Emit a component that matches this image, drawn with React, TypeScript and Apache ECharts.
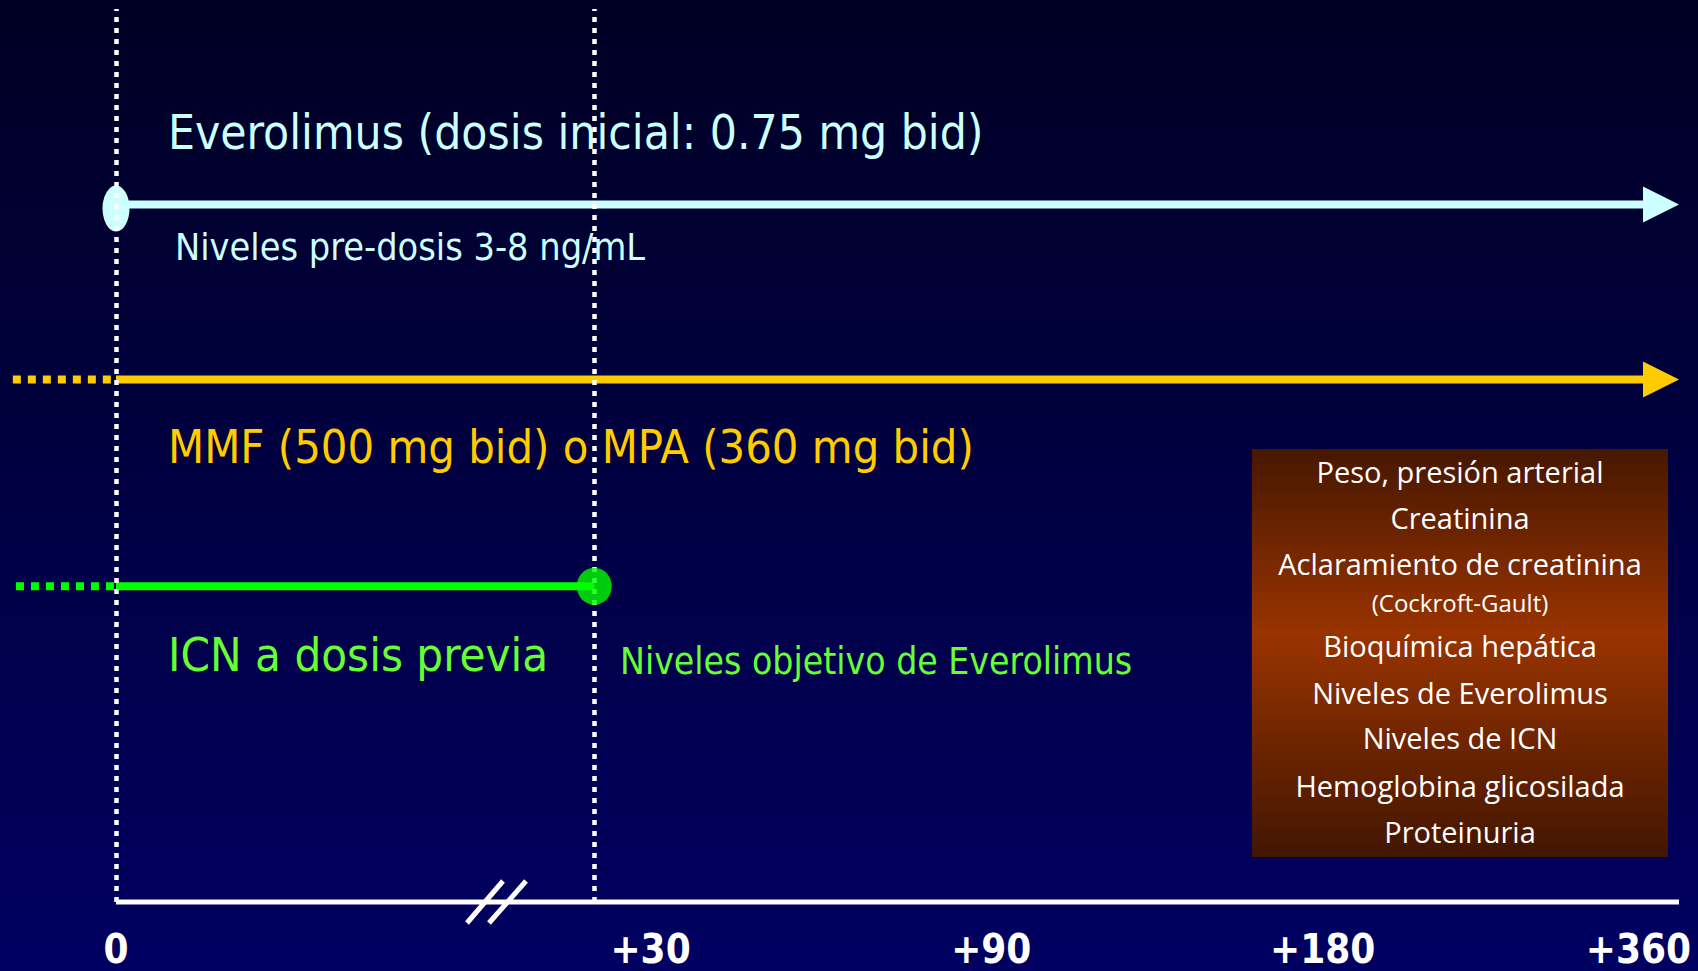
import React, { useEffect, useRef } from "react";
import * as echarts from "echarts";

// Timeline milestones (days after conversion) and where they sit on the track (0–100)
const milestoneLabels = ["0", "+30", "+90", "+180", "+360"];
const milestoneTrack = [0, 34.2, 56.0, 77.2, 97.4];

// Vertical guides: conversion day and the point where target everolimus levels are reached
const guideTrack = [0, 30.6];

// Treatment lanes
const laneNames = ["Everolimus", "MMF / MPA", "ICN"];
const laneLevel = [78.1, 58.5, 35.35];
const laneStart = [0, 0, 0];
const laneEnd = [100, 100, 30.6];
const laneLeadIn = [null, -6.6, -6.4];
const laneColor = ["#ccffff", "#ffcc00", "#00ff00"];

// Monitoring checklist
const monitoringItems = [
  "Peso, presión arterial",
  "Creatinina",
  "Aclaramiento de creatinina",
  "(Cockroft-Gault)",
  "Bioquímica hepática",
  "Niveles de Everolimus",
  "Niveles de ICN",
  "Hemoglobina glicosilada",
  "Proteinuria",
];
const monitoringSmall = [false, false, false, true, false, false, false, false, false];

const W = 1698;
const H = 971;
const TRACK_LEFT = 116;
const GRID_RIGHT = 19;
const GRID_TOP = 9;
const GRID_BOTTOM = 69;
const X_MIN = -7;
const PX_PER_UNIT = (W - TRACK_LEFT - GRID_RIGHT) / 100;
const GRID_LEFT = TRACK_LEFT + X_MIN * PX_PER_UNIT;
const ARROW = 36;

const MAIN_FONT = '"DejaVu Sans Condensed", "Liberation Sans Narrow", "DejaVu Sans", sans-serif';
const BOX_FONT = '"Open Sans", "DejaVu Sans", sans-serif';

function buildOption() {
  const series: any[] = [];

  // Time axis baseline
  series.push({
    name: "eje",
    type: "line",
    data: [
      [milestoneTrack[0], 0],
      [100, 0],
    ],
    symbol: "none",
    clip: false,
    z: 2,
    silent: true,
    lineStyle: { color: "#ffffff", width: 5, cap: "butt" },
  });

  laneNames.forEach((name, i) => {
    const arrowed = laneEnd[i] >= 100;
    const endX = arrowed ? laneEnd[i] - ARROW / 2 / PX_PER_UNIT : laneEnd[i];
    const startItem: any = { value: [laneStart[i], laneLevel[i]], symbol: "none" };
    if (i === 0) {
      startItem.symbol = "circle";
      startItem.symbolSize = [27, 46];
      startItem.symbolOffset = [0, 4];
    }
    const endItem: any = { value: [endX, laneLevel[i]], symbol: "none" };
    if (arrowed) {
      endItem.symbol = "path://M0,0L36,18L0,36Z";
      endItem.symbolSize = [ARROW, ARROW];
    }
    series.push({
      name,
      type: "line",
      data: [startItem, endItem],
      showSymbol: true,
      clip: false,
      z: 3,
      lineStyle: { color: laneColor[i], width: 8, cap: "butt" },
      itemStyle: { color: laneColor[i], borderWidth: 0 },
      silent: true,
    });
    if (!arrowed) {
      // End-of-lane marker sits above the dotted guide
      series.push({
        name: name + " (fin)",
        type: "scatter",
        data: [[laneEnd[i], laneLevel[i]]],
        symbol: "circle",
        symbolSize: [35, 37],
        clip: false,
        z: 7,
        itemStyle: { color: laneColor[i], borderWidth: 0 },
        silent: true,
      });
    }
    const lead = laneLeadIn[i];
    if (lead !== null) {
      series.push({
        name: name + " (previo)",
        type: "line",
        data: [
          [lead, laneLevel[i]],
          [laneStart[i], laneLevel[i]],
        ],
        showSymbol: false,
        symbol: "none",
        clip: false,
        z: 3,
        lineStyle: { color: laneColor[i], width: 8, type: [8, 7], cap: "butt" },
        silent: true,
      });
    }
  });

  // Dotted vertical guides drawn above the lanes
  series.push({
    name: "guías",
    type: "line",
    data: [],
    z: 5,
    silent: true,
    markLine: {
      silent: true,
      symbol: ["none", "none"],
      label: { show: false },
      z: 5,
      lineStyle: { color: "#ffffff", width: 4.5, type: [5, 6], cap: "butt" },
      data: guideTrack.map((x) => ({ xAxis: x })),
    },
  });

  const boxX = 1252;
  const boxY = 449;
  const boxW = 416;
  const boxH = 408;
  const boxLineY = [471, 517, 563, 602, 645, 692, 737, 785, 831];

  const graphic: any[] = [
    {
      type: "text",
      x: 168,
      y: 132,
      style: {
        text: "Everolimus (dosis inicial: 0.75 mg bid)",
        fill: "#ccffff",
        font: `47.5px ${MAIN_FONT}`,
        verticalAlign: "middle",
      },
      z: 1,
    },
    {
      type: "text",
      x: 175,
      y: 247,
      style: {
        text: "Niveles pre-dosis 3-8 ng/mL",
        fill: "#ccffff",
        font: `37.5px ${MAIN_FONT}`,
        verticalAlign: "middle",
      },
      z: 1,
    },
    {
      type: "text",
      x: 168,
      y: 447,
      style: {
        text: "MMF (500 mg bid) o MPA (360 mg bid)",
        fill: "#ffcc00",
        font: `46.6px ${MAIN_FONT}`,
        verticalAlign: "middle",
      },
      z: 1,
    },
    {
      type: "text",
      x: 168,
      y: 654,
      style: {
        text: "ICN a dosis previa",
        fill: "#66ff33",
        font: `47px ${MAIN_FONT}`,
        verticalAlign: "middle",
      },
      z: 1,
    },
    {
      type: "text",
      x: 620,
      y: 661,
      style: {
        text: "Niveles objetivo de Everolimus",
        fill: "#66ff33",
        font: `37px ${MAIN_FONT}`,
        verticalAlign: "middle",
      },
      z: 1,
    },
    {
      type: "rect",
      shape: { x: boxX, y: boxY, width: boxW, height: boxH },
      style: {
        fill: new echarts.graphic.LinearGradient(0, 0, 0, 1, [
          { offset: 0, color: "#461700" },
          { offset: 0.45, color: "#993300" },
          { offset: 1, color: "#421600" },
        ]),
      },
      z: 1,
    },
    ...monitoringItems.map((t, i) => ({
      type: "text",
      x: boxX + boxW / 2,
      y: boxLineY[i],
      style: {
        text: t,
        fill: "#ffffff",
        font: monitoringSmall[i] ? `24px ${BOX_FONT}` : `29px ${BOX_FONT}`,
        align: "center",
        verticalAlign: "middle",
      },
      z: 2,
    })),
    // Axis break mark
    {
      type: "line",
      shape: { x1: 467, y1: 923, x2: 503, y2: 881 },
      style: { stroke: "#ffffff", lineWidth: 5 },
      z: 6,
    },
    {
      type: "line",
      shape: { x1: 489, y1: 923, x2: 526, y2: 881 },
      style: { stroke: "#ffffff", lineWidth: 5 },
      z: 6,
    },
  ];

  return {
    animation: false,
    backgroundColor: "transparent",
    grid: { left: GRID_LEFT, right: GRID_RIGHT, top: GRID_TOP, bottom: GRID_BOTTOM },
    xAxis: {
      type: "value",
      min: X_MIN,
      max: 100,
      axisLine: { show: false },
      axisTick: { show: false },
      splitLine: { show: false },
      axisLabel: {
        customValues: milestoneTrack,
        formatter: (v: number) => {
          const idx = milestoneTrack.indexOf(v);
          return idx >= 0 ? milestoneLabels[idx] : "";
        },
        color: "#ffffff",
        fontFamily: '"DejaVu Sans Condensed", "Liberation Sans Narrow", sans-serif',
        fontWeight: "bold",
        fontSize: 40,
        lineHeight: 34,
        margin: 30,
      },
    },
    yAxis: { type: "value", min: 0, max: 100, show: false },
    series,
    graphic,
  };
}

export default function App() {
  const ref = useRef<HTMLDivElement>(null);
  useEffect(() => {
    document.body.style.margin = "0";
    if (!ref.current) return;
    const chart = echarts.init(ref.current, undefined, { renderer: "svg", width: W, height: H });
    chart.setOption(buildOption());
    return () => chart.dispose();
  }, []);
  return (
    <div
      ref={ref}
      style={{
        width: W,
        height: H,
        background: "linear-gradient(to bottom, #000024 0%, #000042 50%, #000062 100%)",
      }}
    />
  );
}
